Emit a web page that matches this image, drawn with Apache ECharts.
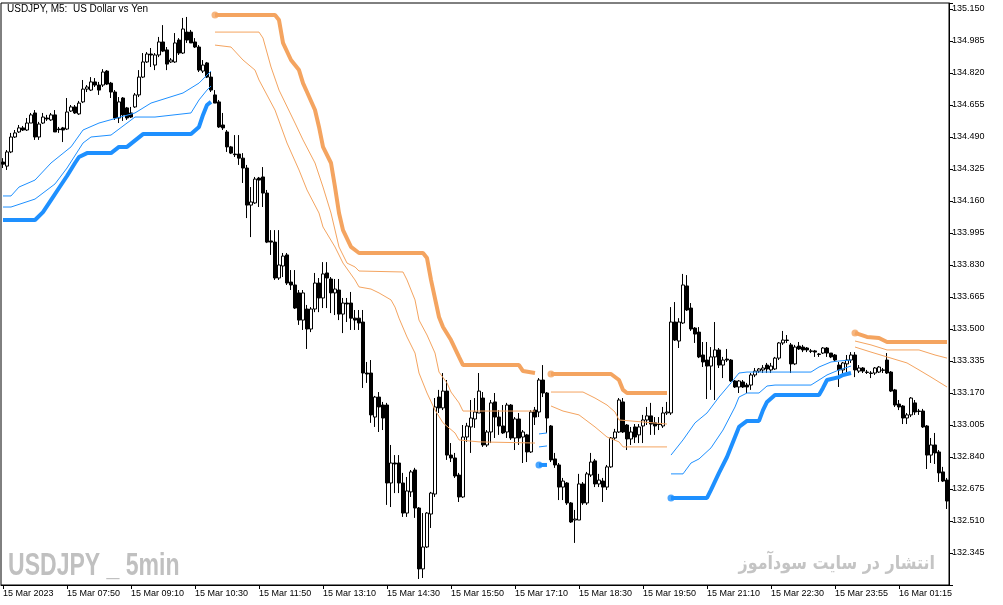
<!DOCTYPE html>
<html><head><meta charset="utf-8">
<script src="https://cdn.jsdelivr.net/npm/echarts@6/dist/echarts.min.js"></script>
<style>html,body{margin:0;padding:0;background:#fff}#c{width:1003px;height:605px}</style>
</head><body><div id="c"></div>
<script>
const timeLabels = ['15 Mar 2023','15 Mar 07:50','15 Mar 09:10','15 Mar 10:30','15 Mar 11:50','15 Mar 13:10','15 Mar 14:30','15 Mar 15:50','15 Mar 17:10','15 Mar 18:30','15 Mar 19:50','15 Mar 21:10','15 Mar 22:30','15 Mar 23:55','16 Mar 01:15'];
const labelStep = 16;
// [open, close, low, high]
const ohlc = [
[134.361,134.350,134.330,134.381],[134.340,134.413,134.320,134.423],[134.413,134.490,134.407,134.511],[134.490,134.511,134.485,134.526],
[134.516,134.537,134.511,134.552],[134.537,134.526,134.521,134.547],[134.526,134.562,134.521,134.588],[134.562,134.604,134.562,134.614],
[134.614,134.490,134.475,134.629],[134.490,134.557,134.475,134.568],[134.562,134.593,134.557,134.614],[134.588,134.583,134.573,134.604],
[134.578,134.604,134.573,134.614],[134.604,134.516,134.516,134.629],[134.531,134.528,134.511,134.542],[134.537,134.526,134.464,134.542],
[134.531,134.619,134.526,134.691],[134.624,134.645,134.619,134.655],[134.645,134.614,134.609,134.655],[134.609,134.665,134.604,134.676],
[134.671,134.737,134.665,134.784],[134.737,134.748,134.722,134.758],[134.732,134.774,134.727,134.799],[134.774,134.758,134.748,134.794],
[134.758,134.732,134.707,134.774],[134.758,134.825,134.748,134.840],[134.830,134.763,134.758,134.835],[134.768,134.722,134.691,134.774],
[134.722,134.588,134.578,134.732],[134.588,134.671,134.562,134.696],[134.691,134.604,134.573,134.696],[134.640,134.588,134.578,134.645],
[134.614,134.593,134.588,134.645],[134.645,134.707,134.640,134.717],[134.707,134.799,134.696,134.835],[134.799,134.877,134.794,134.923],
[134.877,134.918,134.872,134.928],[134.918,134.913,134.851,134.949],[134.861,134.913,134.835,134.923],[134.913,134.980,134.902,135.006],
[134.980,134.933,134.928,135.067],[134.939,134.866,134.835,134.954],[134.877,134.887,134.872,134.897],[134.877,134.975,134.872,135.026],
[134.990,134.923,134.913,135.000],[134.923,135.047,134.918,135.104],[135.031,134.990,134.975,135.109],[135.031,134.975,134.975,135.042],
[134.980,134.954,134.949,135.000],[134.954,134.835,134.825,134.964],[134.830,134.861,134.820,134.887],[134.872,134.799,134.794,134.877],
[134.799,134.732,134.722,134.825],[134.707,134.665,134.665,134.732],[134.671,134.542,134.537,134.681],[134.552,134.537,134.526,134.614],
[134.516,134.439,134.413,134.526],[134.439,134.407,134.402,134.444],[134.402,134.399,134.387,134.500],[134.402,134.381,134.346,134.500],
[134.381,134.330,134.253,134.407],[134.330,134.139,134.072,134.346],[134.139,134.155,133.974,134.232],[134.150,134.273,134.145,134.284],
[134.278,134.268,134.129,134.284],[134.284,134.201,134.129,134.335],[134.201,133.948,133.943,134.217],[133.954,133.948,133.882,134.010],
[133.948,133.763,133.753,134.010],[133.763,133.830,133.753,134.010],[133.825,133.876,133.768,133.892],[133.882,133.737,133.727,133.892],
[133.742,133.727,133.701,133.804],[133.727,133.608,133.603,133.804],[133.686,133.546,133.521,133.701],[133.546,133.686,133.495,133.701],
[133.603,133.500,133.397,133.624],[133.500,133.603,133.484,133.613],[133.603,133.737,133.587,133.789],[133.737,133.660,133.587,133.763],
[133.660,133.784,133.608,133.845],[133.789,133.763,133.608,133.845],[133.758,133.686,133.582,133.768],[133.686,133.706,133.572,133.758],
[133.701,133.577,133.546,133.758],[133.577,133.634,133.479,133.660],[133.634,133.629,133.536,133.660],[133.634,133.556,133.495,133.691],
[133.556,133.546,133.495,133.598],[133.556,133.531,133.495,133.598],[133.536,133.273,133.196,133.598],[133.273,133.268,133.222,133.330],
[133.273,133.057,133.016,133.340],[133.046,133.149,132.995,133.155],[133.149,133.098,132.969,133.175],[133.108,133.041,132.979,133.124],
[133.108,132.706,132.593,133.119],[132.706,132.809,132.582,132.902],[132.809,132.804,132.654,132.850],[132.809,132.706,132.654,132.850],
[132.706,132.551,132.531,132.758],[132.551,132.665,132.531,132.737],[132.660,132.763,132.634,132.773],[132.773,132.577,132.526,132.784],
[132.577,132.263,132.211,132.582],[132.263,132.376,132.216,132.551],[132.376,132.551,132.371,132.556],[132.546,132.654,132.474,132.660],
[132.649,133.098,132.634,133.144],[133.149,133.093,133.067,133.186],[133.093,133.180,133.082,133.273],[133.180,132.850,132.825,133.237],
[132.850,132.835,132.814,132.912],[132.835,132.742,132.732,132.861],[132.747,132.634,132.608,132.758],[132.634,132.943,132.629,133.005],
[132.943,133.000,132.918,133.016],[132.995,133.041,132.861,133.134],[133.036,133.072,132.990,133.144],[133.067,133.180,133.067,133.273],
[133.144,132.902,132.892,133.175],[132.902,132.969,132.892,132.979],[132.969,133.119,132.912,133.134],[133.124,133.046,132.938,133.170],
[133.046,133.000,132.954,133.082],[133.000,132.964,132.959,133.108],[132.969,133.108,132.938,133.119],[133.108,132.938,132.928,133.113],
[132.938,133.036,132.876,133.046],[133.036,132.938,132.902,133.067],[132.943,132.969,132.809,132.979],[132.954,132.866,132.814,132.959],
[132.866,133.072,132.861,133.082],[133.082,133.046,133.005,133.098],[133.072,133.237,133.046,133.247],[133.237,133.170,133.149,133.314],
[133.170,133.041,132.964,133.175],[133.000,132.825,132.814,133.005],[132.830,132.799,132.784,132.861],[132.799,132.685,132.618,132.809],
[132.685,132.716,132.618,132.732],[132.706,132.603,132.593,132.711],[132.603,132.505,132.500,132.608],[132.515,132.520,132.397,132.567],
[132.515,132.701,132.515,132.753],[132.701,132.603,132.593,132.711],[132.603,132.753,132.593,132.763],[132.747,132.814,132.737,132.861],
[132.820,132.701,132.685,132.830],[132.701,132.721,132.685,132.753],[132.716,132.685,132.608,132.732],[132.685,132.789,132.670,132.799],
[132.789,132.938,132.784,132.943],[132.938,132.969,132.928,132.985],[132.969,133.134,132.964,133.144],[133.124,132.969,132.964,133.144],
[133.005,132.933,132.876,133.010],[132.933,132.969,132.902,132.995],[132.995,132.943,132.912,133.010],[132.954,132.995,132.912,133.010],
[133.000,133.031,132.912,133.057],[133.031,133.052,133.005,133.098],[133.052,133.010,132.954,133.119],[133.016,133.000,132.954,133.046],
[133.010,133.008,132.979,133.046],[133.000,133.067,132.990,133.098],[133.067,133.072,133.057,133.124],[133.067,133.536,133.057,133.613],
[133.536,133.443,133.438,133.639],[133.438,133.536,133.402,133.556],[133.531,133.727,133.526,133.784],[133.722,133.598,133.593,133.778],
[133.608,133.500,133.490,133.634],[133.505,133.474,133.428,133.510],[133.484,133.356,133.350,133.510],[133.366,133.330,133.304,133.433],
[133.340,133.309,133.139,133.433],[133.309,133.356,133.186,133.407],[133.356,133.392,133.134,133.536],[133.392,133.314,133.299,133.402],
[133.314,133.340,133.247,133.356],[133.345,133.340,133.330,133.397],[133.340,133.232,133.227,133.345],[133.232,133.201,133.196,133.237],
[133.201,133.232,133.170,133.237],[133.227,133.201,133.196,133.237],[133.211,133.201,133.170,133.222],[133.211,133.263,133.186,133.273],
[133.263,133.283,133.252,133.299],[133.283,133.294,133.273,133.299],[133.289,133.299,133.273,133.314],[133.314,133.294,133.273,133.325],
[133.289,133.309,133.273,133.325],[133.294,133.350,133.289,133.356],[133.350,133.428,133.340,133.433],[133.428,133.443,133.418,133.490],
[133.443,133.441,133.428,133.469],[133.418,133.320,133.273,133.428],[133.320,133.407,133.314,133.418],[133.412,133.397,133.392,133.433],
[133.407,133.392,133.381,133.418],[133.402,133.392,133.381,133.407],[133.387,133.385,133.376,133.397],[133.387,133.381,133.356,133.392],
[133.371,133.369,133.356,133.376],[133.376,133.402,133.371,133.407],[133.402,133.376,133.356,133.407],[133.376,133.356,133.350,133.376],
[133.366,133.340,133.330,133.371],[133.314,133.289,133.201,133.330],[133.289,133.325,133.263,133.330],[133.320,133.340,133.278,133.366],
[133.340,133.366,133.325,133.381],[133.366,133.289,133.252,133.381],[133.283,133.299,133.273,133.314],[133.299,133.283,133.273,133.304],
[133.278,133.276,133.268,133.289],[133.273,133.271,133.247,133.283],[133.273,133.299,133.263,133.304],[133.278,133.304,133.273,133.309],
[133.289,133.287,133.273,133.299],[133.340,133.273,133.268,133.376],[133.278,133.180,133.175,133.283],[133.186,133.108,133.098,133.191],
[133.113,133.098,133.082,133.134],[133.103,133.041,133.010,133.108],[133.041,133.057,133.010,133.067],[133.057,133.144,133.046,133.149],
[133.119,133.072,133.057,133.134],[133.077,133.075,133.057,133.088],[133.077,132.995,132.990,133.088],[133.000,132.850,132.778,133.005],
[132.850,132.902,132.809,132.938],[132.902,132.861,132.804,132.964],[132.866,132.758,132.711,132.876],[132.763,132.716,132.711,132.789],
[132.721,132.613,132.572,132.732]
];
// indicator segments: [barIndex, price]
const blueThick1 = [[0,134.062],[8,134.062],[10,134.103],[12,134.165],[14,134.227],[16,134.289],[18,134.356],[19,134.387],[21,134.407],[27,134.407],[29,134.439],[31,134.439],[35,134.505],[47,134.505],[49,134.542],[50,134.604],[51,134.655],[52,134.671]];
const blueMid1 = [[0,134.129],[2,134.129],[8,134.170],[13,134.248],[16,134.330],[20,134.459],[22,134.490],[27,134.500],[29,134.531],[33,134.593],[38,134.593],[47,134.614],[49,134.681],[51,134.732],[52,134.753]];
const blueUp1 = [[0,134.186],[2,134.186],[4,134.232],[8,134.268],[12,134.356],[17,134.439],[20,134.526],[24,134.562],[33,134.614],[37,134.665],[45,134.717],[49,134.768],[52,134.830]];
const orangeThick1 = [[53,135.119],[68,135.119],[69,135.093],[70,134.975],[72,134.887],[74,134.835],[75,134.768],[76,134.722],[78,134.629],[79,134.542],[80,134.439],[82,134.356],[83,134.232],[84,134.098],[85,134.010],[87,133.923],[89,133.892],[105,133.892],[106,133.866],[107,133.753],[109,133.562],[110,133.510],[112,133.443],[114,133.356],[115,133.314],[129,133.314],[130,133.283],[133,133.273]];
const orangeUp1 = [[53,135.031],[64,135.031],[65,135.000],[67,134.851],[69,134.732],[73,134.562],[75,134.475],[78,134.356],[80,134.232],[82,134.098],[84,133.923],[86,133.840],[88,133.820],[89,133.799],[100,133.794],[101,133.753],[103,133.650],[104,133.546],[106,133.469],[108,133.376],[109,133.278],[111,133.222],[112,133.175],[114,133.119],[115,133.077],[133,133.077]];
const orangeLow1 = [[53,134.964],[57,134.954],[60,134.887],[63,134.835],[64,134.784],[68,134.629],[71,134.459],[74,134.320],[76,134.217],[79,134.098],[80,134.026],[83,133.923],[85,133.840],[88,133.753],[89,133.717],[92,133.706],[94,133.686],[97,133.650],[98,133.613],[99,133.556],[101,133.459],[103,133.376],[104,133.273],[106,133.170],[108,133.082],[110,133.016],[113,132.964],[114,132.928],[119,132.918],[133,132.912]];
const blueThick2 = [[134,132.799],[136,132.799]];
const blueMid2 = [[134,132.892],[136,132.897]];
const blueUp2 = [[134,132.959],[136,132.964]];
const orangeThick2 = [[137,133.268],[152,133.268],[154,133.237],[155,133.186],[156,133.170],[166,133.170]];
const orangeUp2 = [[137,133.175],[145,133.175],[148,133.144],[151,133.108],[153,133.072],[154,133.031],[166,133.010]];
const orangeLow2 = [[137,133.103],[140,133.077],[144,133.057],[148,132.995],[151,132.943],[154,132.918],[155,132.892],[166,132.892]];
const blueThick3 = [[167,132.629],[176,132.629],[177,132.670],[179,132.758],[181,132.840],[183,132.943],[184,132.995],[186,133.026],[189,133.026],[190,133.082],[191,133.124],[193,133.160],[204,133.160],[205,133.196],[206,133.237],[209,133.252],[210,133.263],[212,133.273]];
const blueMid3 = [[167,132.753],[170,132.753],[172,132.809],[174,132.830],[177,132.887],[180,132.979],[183,133.098],[184,133.149],[186,133.170],[189,133.170],[191,133.206],[193,133.211],[202,133.211],[204,133.237],[206,133.263],[209,133.289],[212,133.309]];
const blueUp3 = [[167,132.850],[170,132.928],[173,133.016],[176,133.067],[179,133.149],[182,133.222],[184,133.273],[186,133.278],[202,133.278],[204,133.304],[207,133.330],[209,133.335],[212,133.340]];
const orangeThick3 = [[213,133.480],[216,133.459],[219,133.454],[221,133.433],[236,133.433]];
const orangeUp3 = [[213,133.438],[217,133.418],[221,133.392],[229,133.392],[233,133.366],[236,133.350]];
const orangeLow3 = [[213,133.407],[217,133.381],[221,133.356],[226,133.325],[229,133.289],[232,133.252],[236,133.201]];

const BLUE = '#1E90FF', ORANGE = '#F4A460';
const FONT = 'Liberation Sans';
const cats = ohlc.map((d, i) => String(i));
const isTick = i => i % labelStep === 0;

function line(data, color, width) {
  return {type: 'line', data: data, showSymbol: false, symbol: 'none', smooth: false,
    lineStyle: {color: color, width: width}, z: 4, silent: true, animation: false};
}
const thickSegs = [[blueThick1, BLUE],[orangeThick1, ORANGE],[blueThick2, BLUE],[orangeThick2, ORANGE],[blueThick3, BLUE],[orangeThick3, ORANGE]];
const thinSegs = [[blueMid1, BLUE],[blueUp1, BLUE],[orangeUp1, ORANGE],[orangeLow1, ORANGE],[blueMid2, BLUE],[blueUp2, BLUE],
  [orangeUp2, ORANGE],[orangeLow2, ORANGE],[blueMid3, BLUE],[blueUp3, BLUE],[orangeUp3, ORANGE],[orangeLow3, ORANGE]];

const series = [{
  type: 'candlestick', data: ohlc, barWidth: 3, z: 2,
  itemStyle: {color: '#ffffff', color0: '#000000', borderColor: '#000000', borderColor0: '#000000', borderWidth: 1}
}];
thinSegs.forEach(s => series.push(line(s[0], s[1], 1)));
thickSegs.forEach(s => series.push(line(s[0], s[1], 4)));
series.push({
  type: 'scatter', symbol: 'circle', symbolSize: 7, z: 5, silent: true,
  data: thickSegs.slice(1).map(s => ({value: s[0][0], itemStyle: {color: s[1]}}))
});

const chart = echarts.init(document.getElementById('c'), null, {renderer: 'canvas'});
chart.setOption({
  animation: false,
  backgroundColor: '#ffffff',
  grid: {left: 1, right: 54, top: 3, bottom: 20, show: true, borderColor: '#000', borderWidth: 1, containLabel: false},
  xAxis: {
    type: 'category', data: cats, boundaryGap: true,
    axisLine: {show: true, lineStyle: {color: '#000', width: 1}},
    axisTick: {show: true, alignWithLabel: true, interval: isTick, length: 4, lineStyle: {color: '#000'}},
    axisLabel: {interval: isTick, formatter: (v, i) => timeLabels[i / labelStep] || '', align: 'left', margin: 4,
      fontSize: 9, fontFamily: FONT, color: '#000'},
    splitLine: {show: false}
  },
  yAxis: {
    type: 'value', position: 'right', min: 132.180, max: 135.181, interval: 0.165,
    axisLine: {show: true, lineStyle: {color: '#000', width: 1}},
    axisTick: {show: true, length: 4, lineStyle: {color: '#000'}},
    axisLabel: {margin: 3, fontSize: 9, fontFamily: FONT, color: '#000',
      formatter: v => (v < 132.2 || v > 135.16) ? '' : v.toFixed(3)},
    splitLine: {show: false}
  },
  graphic: [
    {type: 'text', x: 7, y: 4, z: 10, style: {text: 'USDJPY, M5:  US Dollar vs Yen', font: '10px "Liberation Sans"', fill: '#000'}},
    {type: 'text', x: 8, y: 550, z: 10, scaleX: 0.72, style: {text: 'USDJPY _ 5min', font: 'bold 32px "Liberation Sans"', fill: '#c0c0c0'}},
    {type: 'text', x: 935, y: 564, z: 10, scaleX: 0.84, style: {text: 'انتشار در سایت سودآموز', font: 'bold 19px "DejaVu Sans"', fill: '#c4c4c4', align: 'right', verticalAlign: 'middle'}}
  ],
  series: series
});
</script></body></html>
